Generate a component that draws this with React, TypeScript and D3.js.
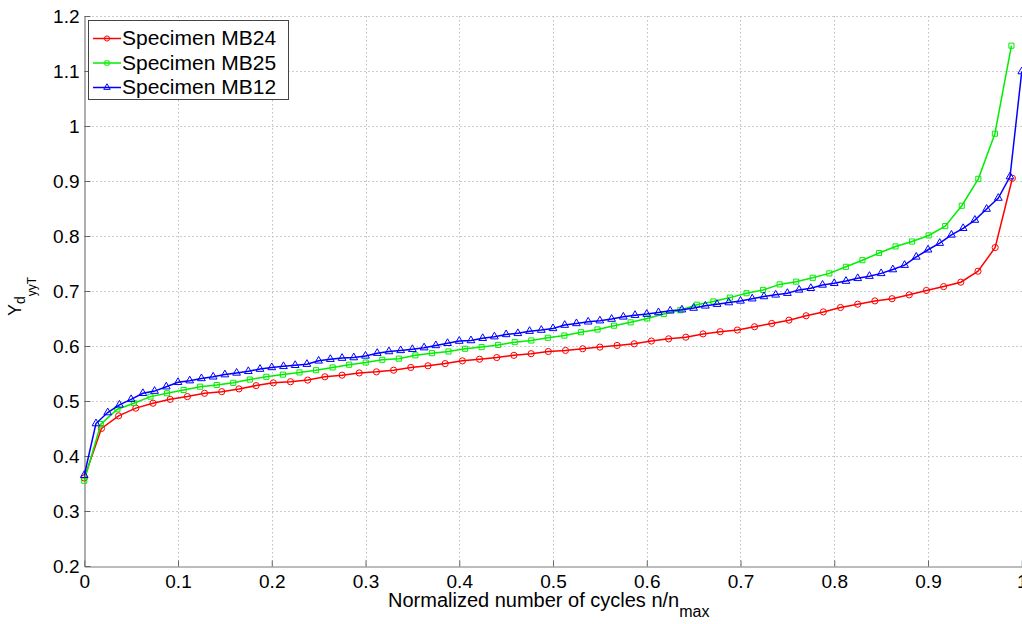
import React, { useEffect, useRef } from 'react';
import * as d3 from 'd3';

// n/n_max tick labels and Y_d_yyT tick labels
const xTicks = [0, 0.1, 0.2, 0.3, 0.4, 0.5, 0.6, 0.7, 0.8, 0.9, 1];
const xTickLabels = ['0', '0.1', '0.2', '0.3', '0.4', '0.5', '0.6', '0.7', '0.8', '0.9', '1'];
const yTicks = [0.2, 0.3, 0.4, 0.5, 0.6, 0.7, 0.8, 0.9, 1, 1.1, 1.2];
const yTickLabels = ['0.2', '0.3', '0.4', '0.5', '0.6', '0.7', '0.8', '0.9', '1', '1.1', '1.2'];

const seriesNames = ['Specimen MB24', 'Specimen MB25', 'Specimen MB12'];

// measured points, evenly spaced in n/n_max from 0 up to the last x below
const mb24LastX = 0.99;
const mb24 = [
  0.360, 0.450, 0.473, 0.487, 0.496, 0.503, 0.508, 0.514, 0.517, 0.522,
  0.528, 0.533, 0.535, 0.538, 0.544, 0.547, 0.551, 0.553, 0.556, 0.561,
  0.564, 0.568, 0.573, 0.576, 0.579, 0.583, 0.586, 0.590, 0.592, 0.595,
  0.598, 0.601, 0.604, 0.609, 0.613, 0.616, 0.622, 0.626, 0.629, 0.635,
  0.641, 0.647, 0.655, 0.662, 0.670, 0.676, 0.682, 0.686, 0.693, 0.701,
  0.708, 0.716, 0.736, 0.779, 0.905,
];

const mb25LastX = 0.989;
const mb25 = [
  0.355, 0.458, 0.485, 0.496, 0.508, 0.514, 0.520, 0.526, 0.529, 0.533,
  0.539, 0.544, 0.548, 0.552, 0.556, 0.561, 0.566, 0.570, 0.575, 0.577,
  0.583, 0.587, 0.590, 0.595, 0.598, 0.602, 0.607, 0.610, 0.615, 0.619,
  0.625, 0.630, 0.637, 0.643, 0.650, 0.658, 0.665, 0.675, 0.681, 0.688,
  0.696, 0.702, 0.712, 0.717, 0.724, 0.732, 0.744, 0.756, 0.769, 0.781,
  0.790, 0.801, 0.818, 0.855, 0.904, 0.986, 1.146,
];

const mb12LastX = 1;
const mb12 = [
  0.365, 0.459, 0.479, 0.493, 0.503, 0.514, 0.518, 0.526, 0.534, 0.537,
  0.541, 0.544, 0.548, 0.551, 0.554, 0.558, 0.561, 0.563, 0.565, 0.567,
  0.573, 0.576, 0.578, 0.579, 0.582, 0.587, 0.590, 0.592, 0.594, 0.597,
  0.601, 0.605, 0.609, 0.610, 0.614, 0.617, 0.621, 0.623, 0.627, 0.629,
  0.632, 0.638, 0.641, 0.644, 0.646, 0.649, 0.653, 0.656, 0.658, 0.661,
  0.664, 0.666, 0.669, 0.673, 0.676, 0.679, 0.682, 0.686, 0.690, 0.693,
  0.696, 0.702, 0.705, 0.711, 0.714, 0.718, 0.723, 0.727, 0.732, 0.739,
  0.747, 0.762, 0.775, 0.787, 0.802, 0.814, 0.829, 0.849, 0.869, 0.908,
  1.099,
];

const width = 1022;
const height = 624;
const plot = { left: 84.25, right: 1021.75, top: 16, bottom: 566 };
const font = '"Liberation Sans", Arial, sans-serif';

const App = () => {
  const ref = useRef<SVGSVGElement>(null);

  useEffect(() => {
    const svg = d3.select(ref.current);
    svg.selectAll('*').remove();

    const x = d3.scaleLinear().domain([0, 1]).range([plot.left, plot.right]);
    const y = d3.scaleLinear().domain([0.2, 1.2]).range([plot.bottom, plot.top]);

    svg.append('rect').attr('width', width).attr('height', height).attr('fill', '#fff');

    // dotted grid
    const grid = svg.append('g')
      .attr('stroke', '#bdbdbd')
      .attr('stroke-width', 1)
      .attr('stroke-dasharray', '1.5,2.5');
    grid.selectAll('.gx')
      .data(xTicks.slice(1))
      .enter()
      .append('line')
      .attr('x1', (d) => Math.round(x(d)) + 0.5)
      .attr('x2', (d) => Math.round(x(d)) + 0.5)
      .attr('y1', plot.top)
      .attr('y2', plot.bottom);
    grid.selectAll('.gy')
      .data(yTicks.slice(1))
      .enter()
      .append('line')
      .attr('x1', plot.left)
      .attr('x2', width)
      .attr('y1', (d) => Math.round(y(d)) + 0.5)
      .attr('y2', (d) => Math.round(y(d)) + 0.5);

    // axes, ticks pointing inwards like matlab
    const xAxis = svg.append('g')
      .attr('transform', `translate(0,${plot.bottom + 0.5})`)
      .call(d3.axisBottom(x)
        .tickValues(xTicks)
        .tickFormat((d, i) => xTickLabels[i])
        .tickSizeInner(-6)
        .tickSizeOuter(0)
        .tickPadding(8));
    const yAxis = svg.append('g')
      .attr('transform', `translate(${plot.left + 0.25},0)`)
      .call(d3.axisLeft(y)
        .tickValues(yTicks)
        .tickFormat((d, i) => yTickLabels[i])
        .tickSizeInner(-6)
        .tickSizeOuter(0)
        .tickPadding(5));
    [xAxis, yAxis].forEach((g) => {
      g.select('.domain').attr('stroke', '#7a7a7a').attr('stroke-width', 1.2);
      g.selectAll('.tick line').attr('stroke', '#666');
      g.selectAll('.tick text')
        .attr('fill', '#000')
        .style('font-family', font)
        .style('font-size', '19px');
    });

    const series = [
      { name: seriesNames[0], values: mb24, lastX: mb24LastX, color: '#ff0000', symbol: d3.symbolCircle, size: 30 },
      { name: seriesNames[1], values: mb25, lastX: mb25LastX, color: '#00ee00', symbol: d3.symbolSquare, size: 26 },
      { name: seriesNames[2], values: mb12, lastX: mb12LastX, color: '#0000ff', symbol: d3.symbolTriangle, size: 26 },
    ];

    const line = d3.line<[number, number]>()
      .x((d) => x(d[0]))
      .y((d) => y(d[1]));

    series.forEach((s) => {
      const pts: [number, number][] = s.values.map((v, i) => [(i * s.lastX) / (s.values.length - 1), v]);
      const g = svg.append('g');
      g.append('path')
        .attr('d', line(pts))
        .attr('fill', 'none')
        .attr('stroke', s.color)
        .attr('stroke-width', 1.5);
      g.selectAll('path.m')
        .data(pts)
        .enter()
        .append('path')
        .attr('class', 'm')
        .attr('transform', (d) => `translate(${x(d[0])},${y(d[1])})`)
        .attr('d', d3.symbol().type(s.symbol).size(s.size)())
        .attr('fill', 'none')
        .attr('stroke', s.color)
        .attr('stroke-width', 1);
    });

    // legend
    const legend = svg.append('g');
    legend.append('rect')
      .attr('x', 88.5)
      .attr('y', 20.5)
      .attr('width', 200)
      .attr('height', 79)
      .attr('fill', '#fff')
      .attr('stroke', '#444');
    series.forEach((s, i) => {
      const cy = 38.5 + i * 24.5;
      legend.append('line')
        .attr('x1', 93).attr('x2', 121)
        .attr('y1', cy).attr('y2', cy)
        .attr('stroke', s.color)
        .attr('stroke-width', 1.5);
      legend.append('path')
        .attr('transform', `translate(107,${cy})`)
        .attr('d', d3.symbol().type(s.symbol).size(s.size * 0.7)())
        .attr('fill', 'none')
        .attr('stroke', s.color);
      legend.append('text')
        .attr('x', 122)
        .attr('y', cy + 6.5)
        .style('font-family', font)
        .style('font-size', '21px')
        .text(s.name);
    });

    // axis titles
    const xTitle = svg.append('text')
      .attr('x', 388)
      .attr('y', 607)
      .style('font-family', font)
      .style('font-size', '20px');
    xTitle.append('tspan').text('Normalized number of cycles n/n');
    xTitle.append('tspan').attr('dy', 10).style('font-size', '16px').text('max');

    const yTitle = svg.append('text')
      .attr('transform', 'translate(21,316) rotate(-90)')
      .style('font-family', font)
      .style('font-size', '18px');
    yTitle.append('tspan').text('Y');
    yTitle.append('tspan').attr('dy', 4).style('font-size', '14px').text('d');
    yTitle.append('tspan').attr('dy', 11).style('font-size', '12px').text('yyT');
  }, []);

  return (
    <svg
      ref={ref}
      width={width}
      height={height}
      style={{ position: 'absolute', left: 0, top: 0, display: 'block' }}
    />
  );
};

export default App;
